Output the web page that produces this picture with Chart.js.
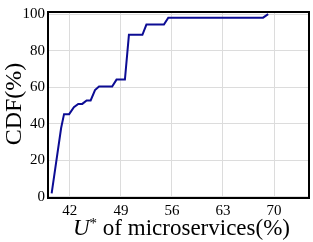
<!DOCTYPE html>
<html>
<head>
<meta charset="utf-8">
<script src="https://cdn.jsdelivr.net/npm/chart.js@4"></script>
<style>
  html, body { margin: 0; padding: 0; background: #fff; }
  #wrap { width: 313px; height: 242px; }
</style>
</head>
<body>
<div id="wrap"><canvas id="cdfChart" width="313" height="242"></canvas></div>
<script>
// U* de los microservicios (%) y su CDF (%)
const uValues   = [39.5, 40.8, 41.2, 41.9, 42.55, 43.15, 43.7, 44.3, 44.85, 45.45, 46.0, 47.8, 48.4, 49.55, 50.1, 51.95, 52.5, 54.9, 55.5, 68.5, 69.2];
const cdfValues = [1.9, 37.7, 45.3, 45.3, 49.1, 50.9, 50.9, 52.8, 52.8, 58.5, 60.4, 60.4, 64.2, 64.2, 88.7, 88.7, 94.3, 94.3, 98.1, 98.1, 100];
const xTicks = [42, 49, 56, 63, 70];
const yTicks = [0, 20, 40, 60, 80, 100];

const serif = '"Liberation Serif", "DejaVu Serif", serif';

// Marco y títulos de los ejes (el del eje x lleva U en cursiva y superíndice)
const marcoYTitulos = {
    id: 'marcoYTitulos',
    afterDraw(chart) {
        const { ctx, chartArea: a } = chart;
        ctx.save();
        ctx.strokeStyle = '#000';
        ctx.lineWidth = 2;
        ctx.strokeRect(a.left, a.top, a.right - a.left, a.bottom - a.top);

        ctx.fillStyle = '#000';
        ctx.textBaseline = 'alphabetic';

        // título eje Y
        ctx.save();
        ctx.translate(21, 104);
        ctx.rotate(-Math.PI / 2);
        ctx.font = '24px ' + serif;
        ctx.textAlign = 'center';
        ctx.fillText('CDF(%)', 0, 0);
        ctx.restore();

        // título eje X
        const partes = [
            { t: 'U', f: 'italic 23px ' + serif, dy: 0 },
            { t: '*', f: '15px ' + serif, dy: -7 },
            { t: ' of microservices(%)', f: '23px ' + serif, dy: 0 }
        ];
        let total = 0;
        partes.forEach(p => { ctx.font = p.f; p.w = ctx.measureText(p.t).width; total += p.w; });
        let x = 181.5 - total / 2;
        const base = 235;
        ctx.textAlign = 'left';
        partes.forEach(p => {
            ctx.font = p.f;
            ctx.fillText(p.t, x, base + p.dy);
            x += p.w;
        });
        ctx.restore();
    }
};

const ctx = document.getElementById('cdfChart').getContext('2d');
new Chart(ctx, {
    type: 'line',
    data: {
        datasets: [{
            data: uValues.map((u, i) => ({ x: u, y: cdfValues[i] })),
            borderColor: '#0c0c94',
            borderWidth: 2,
            pointRadius: 0,
            fill: false,
            tension: 0
        }]
    },
    options: {
        responsive: false,
        animation: false,
        layout: { padding: { top: 3, right: 4, left: 0, bottom: 0 } },
        plugins: {
            legend: { display: false },
            tooltip: { enabled: false }
        },
        scales: {
            x: {
                type: 'linear',
                min: 39.0,
                max: 74.8,
                afterBuildTicks: s => { s.ticks = xTicks.map(v => ({ value: v })); },
                afterFit: s => { s.height = 44; },
                grid: { color: '#dcdcdc', lineWidth: 1, drawTicks: false },
                border: { display: false },
                ticks: {
                    padding: 4,
                    color: '#000',
                    font: { family: serif, size: 15 },
                    maxRotation: 0
                }
            },
            y: {
                min: -0.6,
                max: 101.2,
                afterBuildTicks: s => { s.ticks = yTicks.map(v => ({ value: v })); },
                afterFit: s => { s.width = 48; },
                grid: { color: '#dcdcdc', lineWidth: 1, drawTicks: false },
                border: { display: false },
                ticks: {
                    padding: 3,
                    color: '#000',
                    font: { family: serif, size: 15 }
                }
            }
        }
    },
    plugins: [marcoYTitulos]
});
</script>
</body>
</html>
